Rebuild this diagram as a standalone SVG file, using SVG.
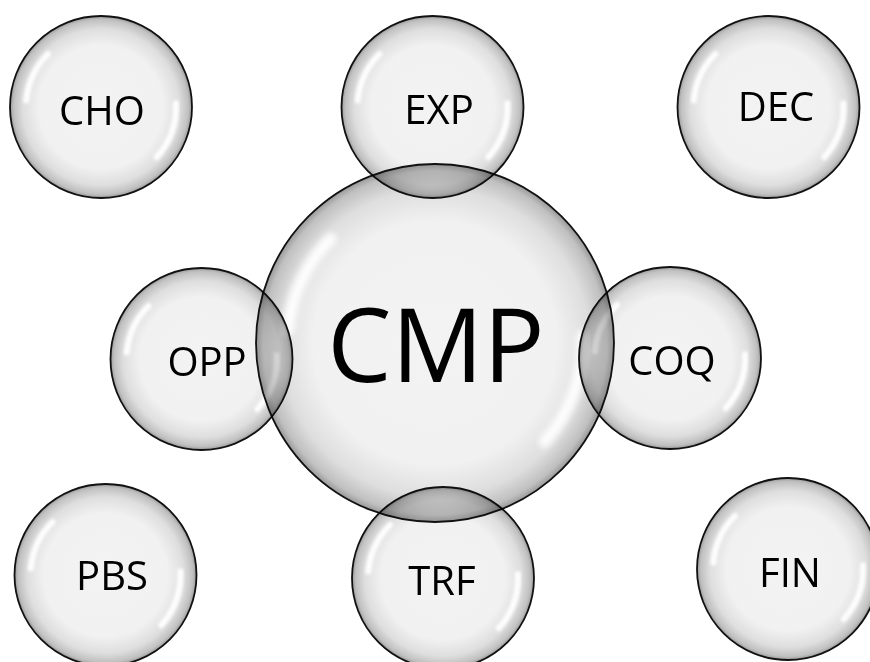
<svg xmlns="http://www.w3.org/2000/svg" xmlns:xlink="http://www.w3.org/1999/xlink" width="870" height="662" viewBox="0 0 870 662">
  <defs>
    <radialGradient id="bubbleFill" cx="0" cy="0" r="91" gradientUnits="userSpaceOnUse">
      <stop offset="0" stop-color="#f3f3f3"/>
      <stop offset="0.68" stop-color="#f1f1f1"/>
      <stop offset="0.86" stop-color="#dedede"/>
      <stop offset="0.96" stop-color="#c0c0c0"/>
      <stop offset="1" stop-color="#999999"/>
    </radialGradient>
    <filter id="soft" x="-20%" y="-20%" width="140%" height="140%">
      <feGaussianBlur stdDeviation="1.6"/>
    </filter>
    <g id="bubble">
      <circle cx="0" cy="0" r="91" fill="url(#bubbleFill)"/>
      <path d="M -74.7 -6.4 A 75 75 0 0 1 -53 -53" fill="none" stroke="#ffffff" stroke-width="6" stroke-linecap="round" filter="url(#soft)" opacity="0.95"/>
      <path d="M 74.9 -3.8 A 75 75 0 0 1 55.7 50.2" fill="none" stroke="#ffffff" stroke-width="6" stroke-linecap="round" filter="url(#soft)" opacity="0.95"/>
      <circle cx="0" cy="0" r="91" fill="none" stroke="#111111" stroke-width="1.8" vector-effect="non-scaling-stroke"/>
    </g>
  </defs>
  <style>
    .shape { mix-blend-mode: multiply; }
    .label { font-family: "Open Sans", "Liberation Sans", Arial, sans-serif; font-size: 40px; fill: #000000; text-anchor: middle; }
    .big { font-size: 102px; }
  </style>
  <rect x="0" y="0" width="870" height="662" fill="#ffffff"/>
  <g id="connectors"/>
  <g id="shapes">
    <use class="shape" xlink:href="#bubble" href="#bubble" transform="translate(435,343) scale(1.967)"/>
    <use class="shape" xlink:href="#bubble" href="#bubble" transform="translate(101,107)"/>
    <use class="shape" xlink:href="#bubble" href="#bubble" transform="translate(432.5,107)"/>
    <use class="shape" xlink:href="#bubble" href="#bubble" transform="translate(768.5,107)"/>
    <use class="shape" xlink:href="#bubble" href="#bubble" transform="translate(201.5,359)"/>
    <use class="shape" xlink:href="#bubble" href="#bubble" transform="translate(670,358)"/>
    <use class="shape" xlink:href="#bubble" href="#bubble" transform="translate(105.5,575)"/>
    <use class="shape" xlink:href="#bubble" href="#bubble" transform="translate(443,578)"/>
    <use class="shape" xlink:href="#bubble" href="#bubble" transform="translate(788,569)"/>
  </g>
  <g id="node-CMP"><text class="label big" x="436" y="382">CMP</text></g>
  <g id="node-CHO"><text class="label" x="102" y="125">CHO</text></g>
  <g id="node-EXP"><text class="label" x="439" y="124">EXP</text></g>
  <g id="node-DEC"><text class="label" x="776" y="121">DEC</text></g>
  <g id="node-OPP"><text class="label" x="207" y="376">OPP</text></g>
  <g id="node-COQ"><text class="label" x="672" y="375">COQ</text></g>
  <g id="node-PBS"><text class="label" x="112" y="590">PBS</text></g>
  <g id="node-TRF"><text class="label" x="442" y="595">TRF</text></g>
  <g id="node-FIN"><text class="label" x="790" y="587">FIN</text></g>
</svg>
